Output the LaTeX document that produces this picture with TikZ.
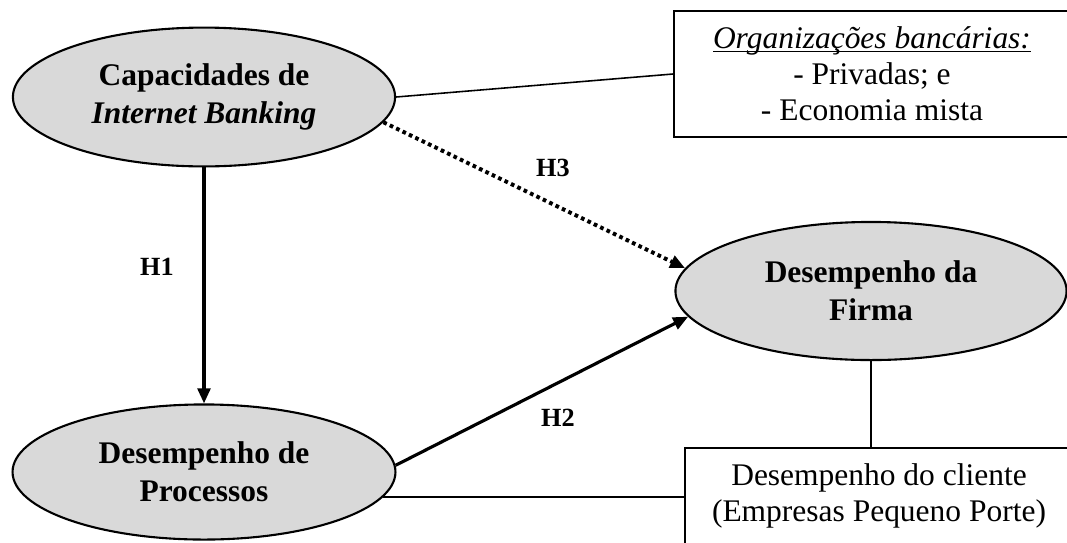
\documentclass[tikz,border=0pt]{standalone}
\usepackage{fontspec}
\setmainfont{Liberation Serif}
\usetikzlibrary{positioning,arrows.meta,shapes.geometric,calc}
\definecolor{ellgray}{RGB}{217,217,217}
\tikzset{
  constnode/.style={ellipse, draw, line width=0.8pt, fill=ellgray, inner sep=0pt, align=center, font=\fontsize{12}{14.4}\selectfont\bfseries},
  infobox/.style={draw, line width=0.6pt, inner sep=0pt, align=center, font=\fontsize{12}{13.8}\selectfont},
  hyparrow/.style={-{Triangle[length=2mm,width=1.7mm]}, line width=1.2pt},
  dotarrow/.style={-{Triangle[length=2mm,width=1.7mm]}, line width=1.5pt, dash pattern=on 1.4pt off 1.3pt},
  plainlink/.style={line width=0.6pt},
  hlabel/.style={font=\fontsize{10}{12}\selectfont\bfseries}
}
\begin{document}
\begin{tikzpicture}[x=0.0134cm, y=-0.0134cm]
  \clip (0,0) rectangle (1067,542);
  % constructs
  \node[constnode, minimum width=5.12cm, minimum height=1.86cm] (capib) at (204,97) {Capacidades de\\\textit{Internet Banking}};
  \node[constnode, minimum width=5.13cm, minimum height=1.81cm] (despro) at (204,472) {Desempenho de\\Processos};
  \node[constnode, minimum width=5.24cm, minimum height=1.85cm] (desfir) at (871,291) {Desempenho da\\Firma};
  % context boxes
  \node[infobox, minimum width=5.31cm, minimum height=1.69cm] (orgbox) at (872,74) {\vphantom{Oç}\underline{\smash{\textit{Organizações bancárias:}}}\\- Privadas; e\\- Economia mista};
  \node[infobox, minimum width=5.2cm, minimum height=1.29cm] (clibox) at (879,496) {Desempenho do cliente\\(Empresas Pequeno Porte)};
  % hypotheses
  \draw[hyparrow] (capib.south) -- (despro.north);
  \draw[hyparrow] (despro.2) -- (desfir.188);
  \draw[dotarrow] (capib.-8) -- (desfir.173);
  \node[hlabel] (h1) at (157,267) {H1};
  \node[hlabel] (h2) at (558,418) {H2};
  \node[hlabel] (h3) at (553,168) {H3};
  % links to boxes
  \draw[plainlink] (capib.east) -- (orgbox.west);
  \draw[plainlink] (despro.-8) -- (despro.-8 -| clibox.west);
  \draw[plainlink] (desfir.south) -- (desfir.south |- clibox.north);
\end{tikzpicture}
\end{document}
